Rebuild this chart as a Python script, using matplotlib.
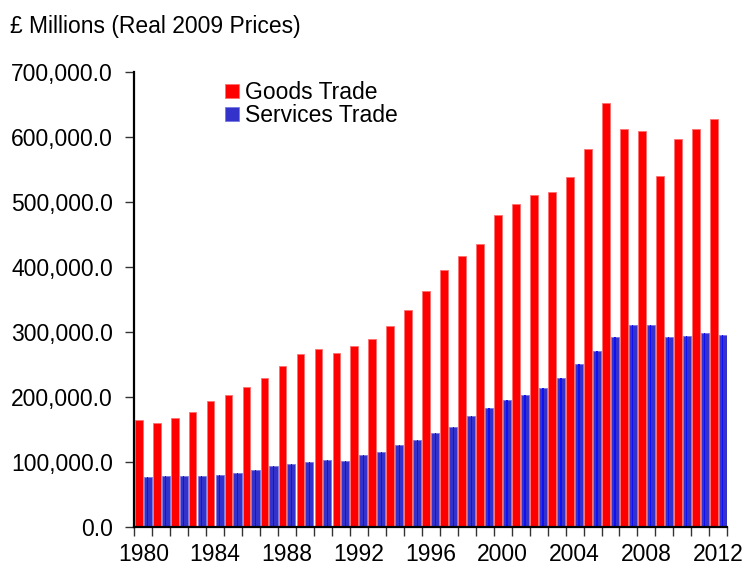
import numpy as np
import matplotlib
matplotlib.use("Agg")
import matplotlib.pyplot as plt

plt.rcParams['font.family'] = ['Liberation Sans', 'DejaVu Sans']

# years and values (GBP millions, real 2009 prices)
years = list(range(1980, 2013))
goods = [163700, 159000, 166800, 176000, 193800, 202000, 214300, 228800, 247700,
         266000, 273400, 267000, 278500, 289000, 308800, 333400, 362000, 395000,
         416500, 435000, 480000, 496500, 510800, 515000, 538500, 580500, 651400,
         612300, 609200, 540000, 597000, 611800, 626800]
services = [77000, 78000, 77500, 77500, 80000, 83000, 86700, 93400, 96000,
            99000, 102000, 100500, 109800, 115000, 125000, 133000, 143600, 154000,
            170000, 182600, 195400, 202600, 213400, 228800, 249800, 270300, 291800,
            310800, 310800, 291300, 293900, 298500, 295400]
label_years = [1980, 1984, 1988, 1992, 1996, 2000, 2004, 2008, 2012]

fs = 16.5

fig = plt.figure(figsize=(7.46, 5.65), dpi=100)
ax = fig.add_axes([134.3 / 746, 38.3 / 565, 593 / 746, 455 / 565])

x = np.arange(len(years))
ax.bar(x + 0.03, goods, width=0.43, align='edge', color='#ff0000',
       edgecolor='#ff7070', linewidth=0.6, label='Goods Trade')
ax.bar(x + 0.52, services, width=0.45, align='edge', color='#3333cc',
       edgecolor='#7a7ae0', linewidth=0.6, label='Services Trade')
# bright centre stripe on the blue bars
ax.bar(x + 0.745, services, width=0.07, align='center', color='#1010f0',
       linewidth=0)

ax.set_xlim(0, len(years))
ax.set_ylim(0, 700000)
ax.set_yticks(np.arange(0, 700001, 100000))
ax.set_yticklabels(['{:,.1f}'.format(v) for v in np.arange(0, 700001, 100000)])

# ticks at category boundaries, labels in the middle of the category
ax.set_xticks(np.arange(0, len(years) + 1))
ax.set_xticklabels([])
ax.set_xticks([years.index(y) + 0.5 for y in label_years], minor=True)
ax.set_xticklabels([str(y) for y in label_years], minor=True)
ax.tick_params(axis='x', which='major', direction='out', length=6.5, width=1,
               color='#333333')
ax.tick_params(axis='x', which='minor', length=0, pad=11.5, labelsize=fs)
ax.tick_params(axis='y', direction='out', length=6.5, width=1, color='#333333',
               pad=9, labelsize=fs)

for s in ['top', 'right']:
    ax.spines[s].set_visible(False)
for s in ['left', 'bottom']:
    ax.spines[s].set_linewidth(1.6)
    ax.spines[s].set_color('black')

handles, labels = ax.get_legend_handles_labels()
ax.legend(handles[:2], labels[:2], loc='upper left',
          bbox_to_anchor=(225 / 746, 1 - 81 / 565), bbox_transform=fig.transFigure,
          frameon=False, fontsize=fs, handlelength=0.62, handleheight=0.62,
          handletextpad=0.25, labelspacing=0.0, borderpad=0, borderaxespad=0)

fig.text(10 / 746, 1 - 33.3 / 565, '£ Millions (Real 2009 Prices)', fontsize=fs,
         ha='left', va='baseline')

fig.savefig('out.png', dpi=100)
